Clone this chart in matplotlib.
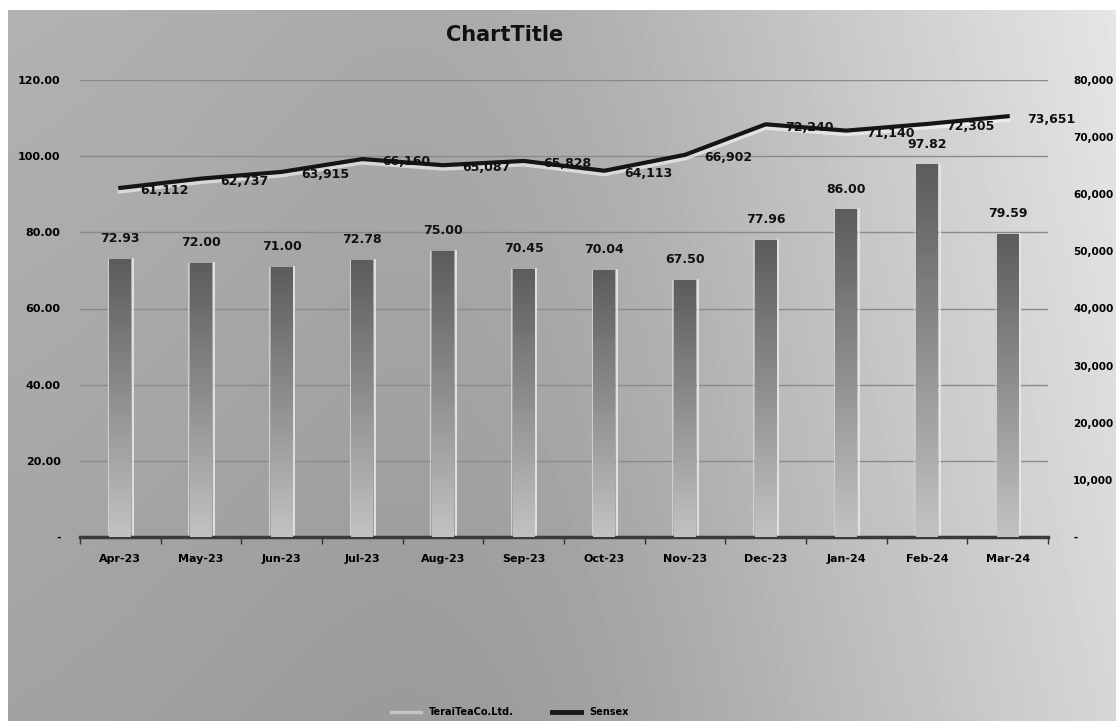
import numpy as np
import matplotlib
matplotlib.use("Agg")
import matplotlib.pyplot as plt
from matplotlib import patheffects as pe
from matplotlib.lines import Line2D
from matplotlib.ticker import FuncFormatter

months = ["Apr-23", "May-23", "Jun-23", "Jul-23", "Aug-23", "Sep-23",
          "Oct-23", "Nov-23", "Dec-23", "Jan-24", "Feb-24", "Mar-24"]
terai = [72.93, 72.00, 71.00, 72.78, 75.00, 70.45, 70.04, 67.50, 77.96, 86.00, 97.82, 79.59]
sensex = [61112, 62737, 63915, 66160, 65087, 65828, 64113, 66902, 72240, 71140, 72305, 73651]

fig = plt.figure(figsize=(11.16, 7.21), dpi=100, facecolor="white")

# gray gradient background of the chart area
bg = fig.add_axes([8 / 1116, 0, 1 - 8 / 1116, 1 - 10 / 721])
gx = np.linspace(0, 1, 300)
gy = np.linspace(0, 1, 200)
X, Y = np.meshgrid(gx, gy)
shade = 0.64 + 0.06 * (1 - Y) - 0.06 * np.exp(-((X - 0.45) ** 2) / 0.08) + 0.2 * X ** 2.2
bg.imshow(shade, cmap="gray", vmin=0, vmax=1, aspect="auto", extent=[0, 1, 0, 1])
bg.set_axis_off()

ax = fig.add_axes([80 / 1116, 1 - 537 / 721, (1048 - 80) / 1116, (537 - 80) / 721])
ax.patch.set_alpha(0)
x = np.arange(len(months))

ax.set_xlim(-0.5, len(months) - 0.5)
ax.set_ylim(0, 120)
ax.set_yticks(np.arange(0, 121, 20))
for yv in np.arange(20, 121, 20):
    ax.axhline(yv, color="#8a8a8a", lw=1.0, zorder=0)

bars = ax.bar(x, terai, width=0.27, color="#8a8a8a", edgecolor="none", zorder=2)
grad = np.linspace(0, 1, 100).reshape(-1, 1)
for b in bars:
    bx, by, bw, bh = b.get_x(), b.get_y(), b.get_width(), b.get_height()
    im = ax.imshow(grad, cmap="gray", vmin=-0.9, vmax=1.6, aspect="auto",
                   extent=[bx, bx + bw, by, by + bh], origin="upper", zorder=3)
    im.set_clip_path(b)
    ax.plot([bx + bw + 0.02] * 2, [0, bh], color="#e6e6e6", lw=1.3, zorder=2)
    ax.plot([bx - 0.02] * 2, [0, bh], color="#cfcfcf", lw=0.8, zorder=2)
    ax.annotate(f"{bh:.2f}", (bx + bw / 2, bh), xytext=(0, 10), textcoords="offset points",
                ha="center", va="bottom", fontsize=9, fontweight="bold", color="#111111")

ax.set_xticks(np.arange(-0.5, len(months), 1))
ax.set_xticks(x, minor=True)
ax.set_xticklabels([])
ax.set_xticklabels(months, minor=True)
ax.tick_params(axis="x", which="major", length=5, color="#333333", width=1)
ax.tick_params(axis="x", which="minor", length=0, pad=12, labelsize=8)
for lb in ax.get_xticklabels(minor=True):
    lb.set_fontweight("bold")
ax.yaxis.set_major_formatter(FuncFormatter(lambda v, p: "-" if v == 0 else f"{v:.2f}"))
ax.tick_params(axis="y", length=0, pad=14, labelsize=8)
for lb in ax.get_yticklabels():
    lb.set_fontweight("bold")
for s in ["top", "right", "left"]:
    ax.spines[s].set_visible(False)
ax.spines["bottom"].set_color("#3a3a3a")
ax.spines["bottom"].set_linewidth(2.5)

ax2 = ax.twinx()
ax2.set_ylim(0, 80000)
ax2.set_yticks(np.arange(0, 80001, 10000))
ax2.yaxis.set_major_formatter(FuncFormatter(lambda v, p: "-" if v == 0 else f"{v:,.0f}"))
ax2.tick_params(axis="y", length=0, pad=18, labelsize=7.5)
for lb in ax2.get_yticklabels():
    lb.set_fontweight("bold")
for s in ax2.spines.values():
    s.set_visible(False)

ax2.plot(x, sensex, color="#151515", lw=3.0, zorder=5,
         path_effects=[pe.SimpleLineShadow(offset=(0, -2), shadow_color="white", alpha=0.55, linewidth=4),
                       pe.Normal()])
for xi, v in zip(x, sensex):
    ax2.annotate(f"{v:,}", (xi, v), xytext=(14, -2), textcoords="offset points",
                 ha="left", va="center", fontsize=9, fontweight="bold", color="#111111", zorder=6)

fig.text(505 / 1116, 1 - 35 / 721, "ChartTitle", ha="center", va="center",
         fontsize=15, fontweight="bold", color="#111111")

handles = [Line2D([], [], color="#c4c4c4", lw=2.5),
           Line2D([], [], color="#1a1a1a", lw=3.5)]
leg = fig.legend(handles, ["TeraiTeaCo.Ltd.", "Sensex"], loc="center",
                 bbox_to_anchor=(510 / 1116, 1 - 712 / 721), ncol=2, frameon=False,
                 prop={"size": 7, "weight": "bold"}, handlelength=3, columnspacing=4)

fig.savefig("out.png", dpi=100, facecolor="white")
